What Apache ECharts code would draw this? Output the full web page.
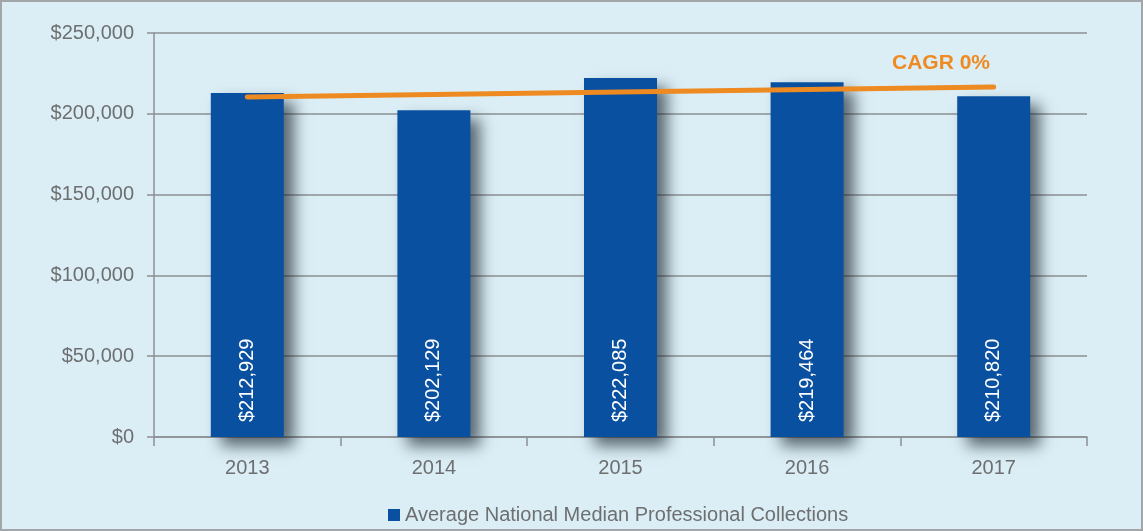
<!DOCTYPE html>
<html>
<head>
<meta charset="utf-8">
<script src="https://cdn.jsdelivr.net/npm/echarts@6/dist/echarts.min.js"></script>
<style>
html,body{margin:0;padding:0;background:#dbeef5;}
#c{width:1143px;height:531px;box-sizing:border-box;border:2px solid #a3a6a8;}
</style>
</head>
<body>
<div id="c"></div>
<script>
var categories = ['2013', '2014', '2015', '2016', '2017'];
var collections = [212929, 202129, 222085, 219464, 210820];
var trend = [210400, 211950, 213500, 215050, 216600];
var yTicks = [0, 50000, 100000, 150000, 200000, 250000];
var seriesName = 'Average National Median Professional Collections';
var trendLabel = 'CAGR 0%';

function money(v) {
  return '$' + String(v).replace(/\B(?=(\d{3})+(?!\d))/g, ',');
}

var chart = echarts.init(document.getElementById('c'), null, {renderer: 'canvas'});
var font = 'Liberation Sans, Arial, sans-serif';
chart.setOption({
  backgroundColor: '#dbeef5',
  animation: false,
  textStyle: {fontFamily: font},
  grid: {left: 152, right: 54, top: 31, bottom: 92, containLabel: false},
  legend: {
    data: [seriesName],
    left: 381, top: 498,
    icon: 'rect', itemWidth: 12, itemHeight: 12, itemGap: 6,
    textStyle: {color: '#6d6f71', fontSize: 20, fontFamily: font}
  },
  graphic: [{
    type: 'text', left: 890, top: 51,
    style: {text: trendLabel, fill: '#ee8a22', font: 'bold 21px ' + font}
  }],
  xAxis: {
    type: 'category', data: categories,
    axisLine: {lineStyle: {color: '#8d9094', width: 1.5}},
    axisTick: {show: true, length: 9, lineStyle: {color: '#8d9094', width: 1.5}},
    axisLabel: {color: '#6d6f71', fontSize: 20, margin: 21, fontFamily: font}
  },
  yAxis: {
    type: 'value', min: yTicks[0], max: yTicks[yTicks.length - 1], interval: 50000,
    axisLine: {show: true, lineStyle: {color: '#8d9094', width: 1.5}},
    axisTick: {show: true, length: 7, lineStyle: {color: '#8d9094', width: 1.5}},
    splitLine: {show: true, lineStyle: {color: '#8d9094', width: 1.5}},
    axisLabel: {color: '#6d6f71', fontSize: 20, margin: 20, fontFamily: font, formatter: money}
  },
  series: [{
    name: seriesName, type: 'bar', data: collections, barWidth: 73, z: 2,
    itemStyle: {
      color: '#0a50a0',
      shadowColor: 'rgba(20,30,40,0.65)', shadowBlur: 14, shadowOffsetX: 10, shadowOffsetY: 9
    },
    label: {
      show: true, position: 'insideBottom', rotate: 90, align: 'left', verticalAlign: 'middle',
      distance: 15, color: '#ffffff', fontSize: 20, fontFamily: font,
      formatter: function (p) { return money(p.value); }
    }
  }, {
    name: 'trend', type: 'line', data: trend, symbol: 'none', z: 5,
    lineStyle: {color: '#ee8a22', width: 5, cap: 'round'},
    silent: true
  }]
});
</script>
</body>
</html>
